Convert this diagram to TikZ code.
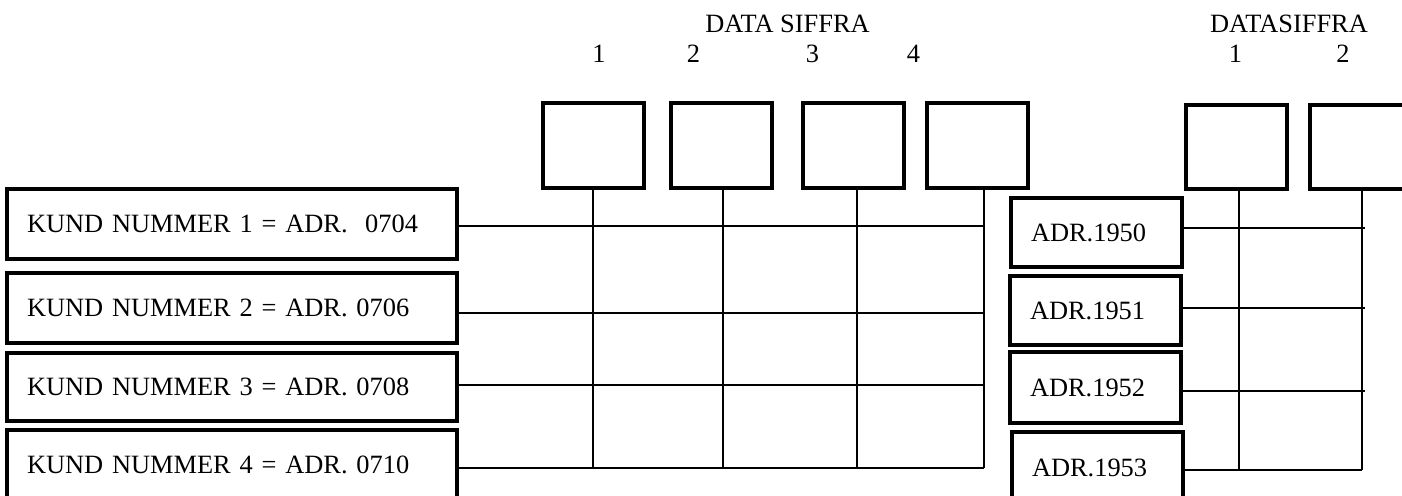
\documentclass[tikz,border=0pt]{standalone}
\usepackage{fontspec}
\setmainfont{Liberation Serif}

\begin{document}
\begin{tikzpicture}[x=0.5pt,y=-0.5pt,line width=1.25pt,
  font=\fontsize{13.2}{15}\selectfont,
  kundbox/.style={draw,line width=1.6pt,text width=205pt,align=left,
    inner xsep=10pt,inner ysep=0pt,minimum height=35pt},
  adrbox/.style={kundbox,text width=65.5pt},
  sifbox/.style={draw,line width=1.6pt,minimum width=50.5pt,
    minimum height=42.5pt,inner sep=0pt}]
\path[use as bounding box,clip] (0,0) rectangle (1402,496);
% ---- headings ----
\node (ds) at (787.5,23.5) {DATA SIFFRA};
\foreach \i/\x in {1/599,2/693.5,3/812.5,4/913.5}{
  \node (n\i) at (\x,54) {\i};
}
\node (dsb) at (1289,23.5) {DATASIFFRA};
\foreach \i/\x in {1/1235.5,2/1343}{
  \node (m\i) at (\x,54) {\i};
}
% ---- data digit boxes ----
\foreach \i/\x in {1/593.5,2/721.5,3/853.5,4/977.5}{
  \node[sifbox] (d\i) at (\x,145.5) {};
}
\foreach \i/\x in {1/1236.5,2/1360.5}{
  \node[sifbox,minimum height=42pt] (s\i) at (\x,147) {};
}
% ---- customer boxes ----
\foreach \i/\y/\h/\t in {1/224/35/{KUND NUMMER 1 = ADR.\ \ 0704},
                         2/308/35/{KUND NUMMER 2 = ADR. 0706},
                         3/387/34/{KUND NUMMER 3 = ADR. 0708},
                         4/465/35/{KUND NUMMER 4 = ADR. 0710}}{
  \node[kundbox,minimum height=\h pt] (k\i) at (232,\y) {\t};
}
% ---- address boxes ----
\foreach \i/\x/\y/\h in {1/1096.5/232.5/34.5,2/1095.5/310.5/34.5,
                         3/1095.5/387.5/35.5,4/1097.5/467.5/35.5}{
  \node[adrbox,minimum height=\h pt] (a\i) at (\x,\y) {ADR.195\the\numexpr\i-1\relax};
}
% ---- grid, left ----
\foreach \i/\x in {1/593,2/723,3/857,4/984}{
  \coordinate (c\i) at (\x,468);
  \draw (c\i |- d\i.south) -- (c\i);
}
\foreach \i/\y in {1/226,2/313,3/385,4/468}{
  \coordinate (r\i) at (984,\y);
  \draw (k\i.east |- r\i) -- (r\i);
}
% ---- grid, right ----
\foreach \i/\x in {1/1239,2/1362}{
  \coordinate (w\i) at (\x,470);
  \draw (w\i |- s\i.south) -- (w\i);
}
\foreach \i/\x/\y in {1/1365/228,2/1365/308,3/1365/391,4/1362/470}{
  \coordinate (e\i) at (\x,\y);
  \draw (a\i.east |- e\i) -- (e\i);
}
\end{tikzpicture}
\end{document}
